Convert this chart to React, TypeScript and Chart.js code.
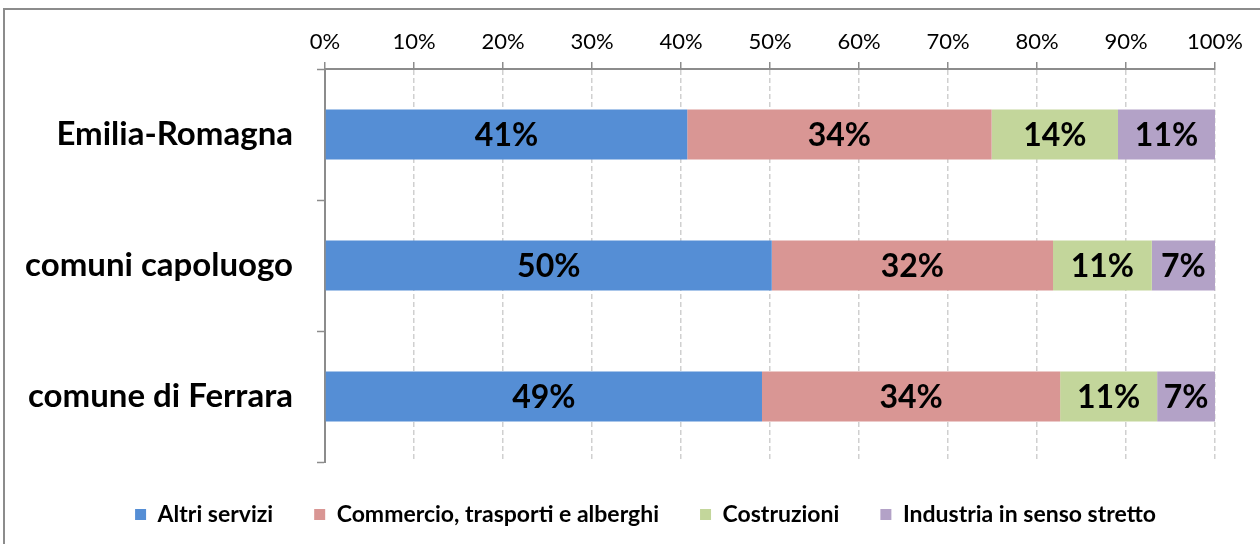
import React, { useEffect, useRef } from "react";
import { Chart, registerables } from "chart.js";

Chart.register(...registerables);

const categories = ["Emilia-Romagna", "comuni capoluogo", "comune di Ferrara"];
const altriServizi = [40.7, 50.2, 49.1];
const commercio = [34.2, 31.6, 33.5];
const costruzioni = [14.2, 11.1, 10.9];
const industria = [10.9, 7.1, 6.5];
const seriesNames = [
  "Altri servizi",
  "Commercio, trasporti e alberghi",
  "Costruzioni",
  "Industria in senso stretto",
];
const seriesColors = ["#558ED5", "#D99694", "#C3D69B", "#B3A2C7"];
const xTicks = [0, 10, 20, 30, 40, 50, 60, 70, 80, 90, 100];

const FONT = "Lato, 'Open Sans', sans-serif";

const labelPlugin = {
  id: "segLabels",
  afterDatasetsDraw(chart: any) {
    const ctx = chart.ctx;
    ctx.save();
    ctx.font = `bold 32px ${FONT}`;
    ctx.fillStyle = "#000";
    ctx.textAlign = "center";
    ctx.textBaseline = "middle";
    chart.data.datasets.forEach((ds: any, di: number) => {
      const meta = chart.getDatasetMeta(di);
      meta.data.forEach((el: any, i: number) => {
        const { x, y, base } = el.getProps(["x", "y", "base"], true);
        const v = ds.data[i];
        ctx.fillText(Math.round(v) + "%", (x + base) / 2, y + 1);
      });
    });
    ctx.restore();
  },
};

const legendShift = {
  id: "legendShift",
  afterLayout(chart: any) {
    if (chart.legend) {
      chart.legend.left += 38;
      chart.legend.right += 38;
    }
  },
};

export default function App() {
  const ref = useRef<HTMLCanvasElement>(null);
  useEffect(() => {
    if (!ref.current) return;
    const values = [altriServizi, commercio, costruzioni, industria];
    const chart = new Chart(ref.current, {
      type: "bar",
      data: {
        labels: categories,
        datasets: values.map((d, i) => ({
          label: seriesNames[i],
          data: d,
          backgroundColor: seriesColors[i],
          borderWidth: 0,
          categoryPercentage: 1,
          barPercentage: 0.38,
        })),
      },
      options: {
        indexAxis: "y",
        responsive: false,
        animation: false,
        layout: { padding: { left: 0, right: 45, top: 0, bottom: 8 } },
        plugins: {
          tooltip: { enabled: false },
          legend: {
            position: "bottom",
            labels: {
              boxWidth: 11,
              boxHeight: 11,
              padding: 41,
              color: "#000",
              font: { family: FONT, size: 23, weight: "bold" },
            },
          },
        },
        scales: {
          x: {
            position: "top",
            stacked: true,
            min: xTicks[0],
            max: xTicks[xTicks.length - 1],
            afterFit: (s: any) => {
              s.height = 69;
            },
            afterBuildTicks: (s: any) => {
              s.ticks = xTicks.map((v) => ({ value: v }));
            },
            ticks: {
              callback: (v: any) => v + "%",
              color: "#000",
              padding: 7,
              font: { family: FONT, size: 22 },
            },
            grid: {
              color: "#D0D0D0",
              lineWidth: 1.5,
              tickColor: "#8C8C8C",
              tickLength: 7,
              tickWidth: 1.5,
              tickBorderDash: [],
            },
            border: { display: true, color: "#8C8C8C", width: 2, dash: [5, 3] },
          },
          y: {
            stacked: true,
            afterFit: (s: any) => {
              s.width = 325;
            },
            ticks: {
              color: "#000",
              padding: 24,
              font: { family: FONT, size: 33, weight: "bold" },
            },
            grid: {
              drawOnChartArea: false,
              tickColor: "#8C8C8C",
              tickLength: 8,
              tickWidth: 1.5,
            },
            border: { display: true, color: "#8C8C8C", width: 2 },
          },
        },
      } as any,
      plugins: [labelPlugin, legendShift],
    });
    return () => chart.destroy();
  }, []);

  return (
    <div
      style={{
        position: "absolute",
        left: 0,
        top: 0,
        width: 1260,
        height: 544,
        overflow: "hidden",
        background: "#fff",
      }}
    >
      <div
        style={{
          position: "absolute",
          left: 3,
          top: 8,
          width: 1300,
          height: 600,
          border: "2px solid #8C8C8C",
          boxSizing: "border-box",
        }}
      />
      <canvas
        ref={ref}
        width={1260}
        height={544}
        style={{ position: "absolute", left: 0, top: 0, width: 1260, height: 544 }}
      />
    </div>
  );
}
